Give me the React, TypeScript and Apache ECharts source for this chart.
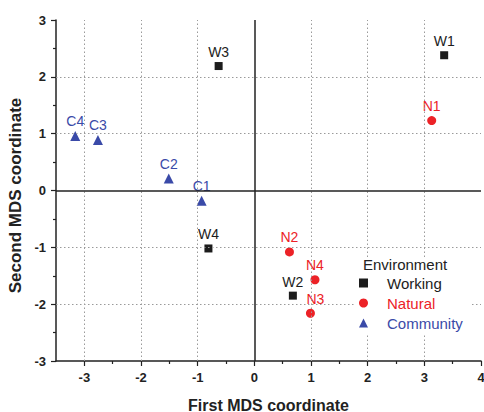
import React, { useEffect, useRef } from 'react';
import * as echarts from 'echarts';

const workingNames = ['W1', 'W2', 'W3', 'W4'];
const workingX = [3.35, 0.68, -0.63, -0.81];
const workingY = [2.38, -1.85, 2.19, -1.02];

const naturalNames = ['N1', 'N2', 'N3', 'N4'];
const naturalX = [3.13, 0.62, 0.99, 1.07];
const naturalY = [1.23, -1.08, -2.16, -1.57];

const communityNames = ['C1', 'C2', 'C3', 'C4'];
const communityX = [-0.93, -1.51, -2.76, -3.16];
const communityY = [-0.18, 0.21, 0.89, 0.96];

const xTicks = [-3, -2, -1, 0, 1, 2, 3, 4];
const xMinorTicks = [-2.5, -1.5, -0.5, 0.5, 1.5, 2.5, 3.5];
const xGridValues = [-3, -2, -1, 1, 2, 3];
const yGridValues = [-2, -1, 1, 2];

const legendNames = ['Working', 'Natural', 'Community'];

const FONT = '"Liberation Sans", Arial, sans-serif';
const BLACK = '#1c1c1c';
const RED = '#ec2227';
const BLUE = '#3a4aa8';

function points(names: string[], xs: number[], ys: number[]) {
  return names.map((n, i) => {
    const item: any = { name: n, value: [xs[i], ys[i]] };
    if (n === 'N3') item.label = { offset: [5, 0] };
    return item;
  });
}

export default function App() {
  const ref = useRef<HTMLDivElement>(null);
  useEffect(() => {
    if (!ref.current) return;
    const chart = echarts.init(ref.current, null, { renderer: 'svg' });
    const dotted = { type: [1.5, 2.5], color: '#9a9a9a', width: 1 };
    const solid = { type: 'solid', color: '#222', width: 1.5 };
    const labelCfg = (color: string) => ({
      show: true,
      position: 'top',
      distance: 3,
      formatter: '{b}',
      color,
      opacity: 1,
      fontSize: 14,
      fontFamily: FONT,
      backgroundColor: '#fff',
      padding: [0, 1],
    });
    const option: any = {
      animation: false,
      grid: { left: 56, right: 3, top: 20, bottom: 51, containLabel: false, outerBoundsMode: 'none' },
      xAxis: [
        {
          type: 'value',
          min: -3.5,
          max: 4,
          position: 'bottom',
          axisLine: { show: true, onZero: false, lineStyle: { color: '#222', width: 1.5 } },
          axisTick: { show: true, customValues: xTicks, length: 5, lineStyle: { color: '#222', width: 1.2 } },
          axisLabel: { customValues: xTicks, margin: 10, fontWeight: 'bold', fontSize: 13, color: '#222', fontFamily: FONT },
          splitLine: { show: false },
          name: 'First MDS coordinate',
          nameLocation: 'middle',
          nameGap: 36,
          nameTextStyle: { fontWeight: 'bold', fontSize: 16, color: '#222', fontFamily: FONT },
        },
        {
          type: 'value',
          min: -3.5,
          max: 4,
          position: 'bottom',
          offset: 0,
          axisLine: { show: false, onZero: false },
          axisTick: { show: true, customValues: xMinorTicks, length: 3, lineStyle: { color: '#222', width: 1.2 } },
          axisLabel: { show: false },
          splitLine: { show: false },
        },
      ],
      yAxis: {
        type: 'value',
        min: -3,
        max: 3,
        interval: 1,
        axisLine: { show: true, onZero: false, lineStyle: { color: '#222', width: 1.5 } },
        axisTick: { show: true, length: 5, lineStyle: { color: '#222', width: 1.2 } },
        minorTick: { show: true, splitNumber: 2, length: 3, lineStyle: { color: '#222', width: 1.2 } },
        axisLabel: { margin: 10, fontWeight: 'bold', fontSize: 13, color: '#222', fontFamily: FONT },
        splitLine: { show: false },
        minorSplitLine: { show: false },
        name: 'Second MDS coordinate',
        nameLocation: 'middle',
        nameGap: 30,
        nameTextStyle: { fontWeight: 'bold', fontSize: 17, color: '#222', fontFamily: FONT, padding: [0, 10, 0, 0] },
      },
      legend: {
        orient: 'vertical',
        left: 355,
        top: 258,
        z: 60,
        padding: [17, 10, 6, 4],
        itemWidth: 9,
        itemHeight: 9,
        itemGap: 4,
        selectedMode: false,
        itemStyle: { opacity: 1 },
        textStyle: { fontSize: 15, lineHeight: 16, padding: [0, 0, 0, 14], fontFamily: FONT },
        data: legendNames.map((n, i) => ({ name: n, textStyle: { color: [BLACK, RED, BLUE][i] } })),
      },
      graphic: {
        elements: [
          {
            type: 'rect',
            left: 355,
            top: 258,
            z: 50,
            shape: { width: 115, height: 77 },
            style: { fill: '#fff' },
          },
          {
            type: 'text',
            left: 363,
            top: 257,
            z: 100,
            style: { text: 'Environment', fontSize: 15, fill: '#222', fontFamily: FONT },
          },
        ],
      },
      series: [
        {
          type: 'scatter',
          name: 'Working',
          symbol: 'rect',
          symbolSize: 8,
          itemStyle: { color: BLACK, opacity: 1 },
          label: labelCfg(BLACK),
          data: points(workingNames, workingX, workingY),
          markLine: {
            silent: true,
            symbol: ['none', 'none'],
            label: { show: false },
            emphasis: { disabled: true },
            data: [
              ...xGridValues.map((v) => ({ xAxis: v, lineStyle: dotted })),
              ...yGridValues.map((v) => ({ yAxis: v, lineStyle: dotted })),
              { xAxis: 0, lineStyle: solid },
              { yAxis: 0, lineStyle: solid },
            ],
          },
        },
        {
          type: 'scatter',
          name: 'Natural',
          symbol: 'circle',
          symbolSize: 9,
          itemStyle: { color: RED, opacity: 1 },
          label: labelCfg(RED),
          data: points(naturalNames, naturalX, naturalY),
        },
        {
          type: 'scatter',
          name: 'Community',
          symbol: 'triangle',
          symbolSize: 10,
          itemStyle: { color: BLUE, opacity: 1 },
          label: labelCfg(BLUE),
          data: points(communityNames, communityX, communityY),
        },
      ],
    };
    chart.setOption(option);
    return () => chart.dispose();
  }, []);
  return <div ref={ref} style={{ position: 'absolute', left: 0, top: 0, width: 484, height: 412 }} />;
}
